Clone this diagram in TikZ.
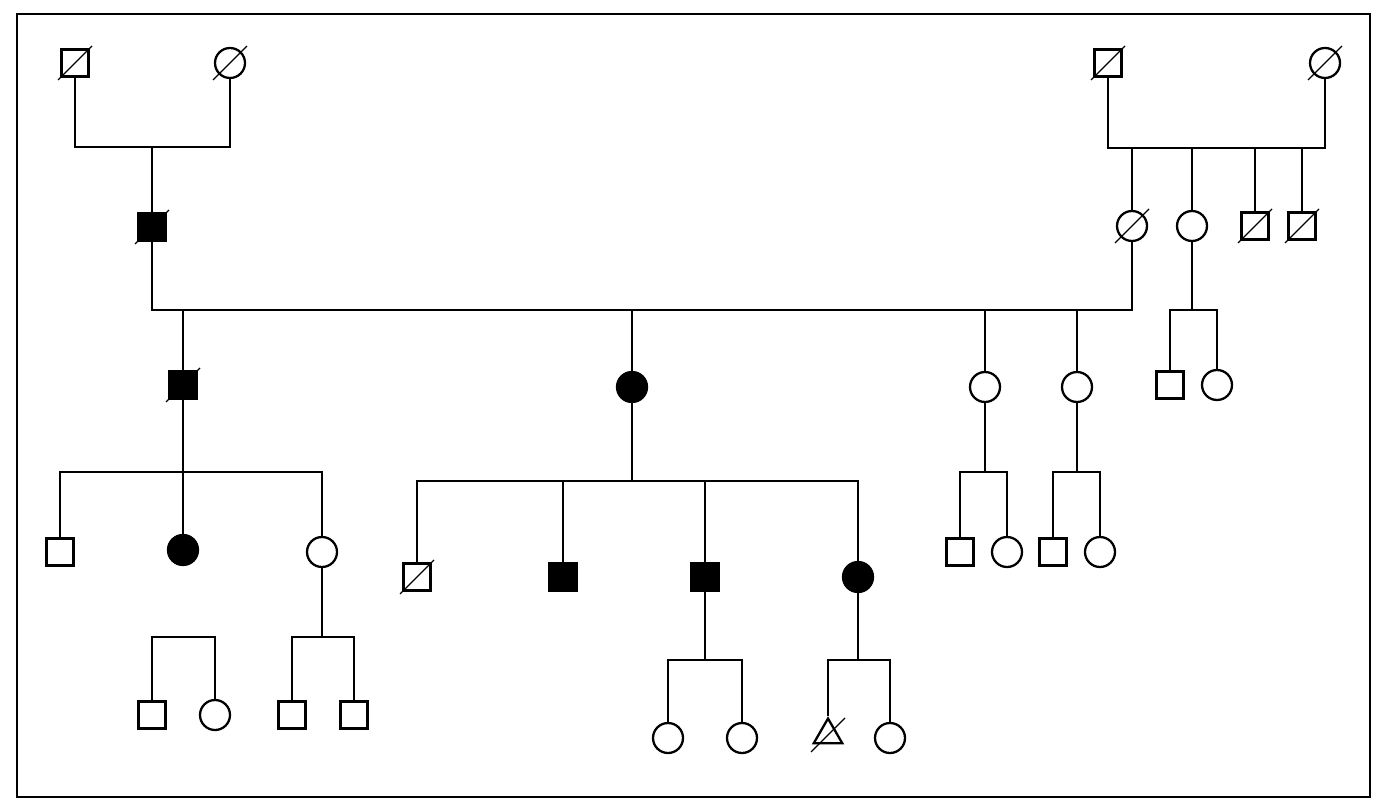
\documentclass[tikz,border=0pt]{standalone}
\usetikzlibrary{positioning,shapes.geometric,calc}
\tikzset{
  male/.style={draw,rectangle,minimum size=0.54cm,inner sep=0pt,line width=1.3pt,fill=white},
  female/.style={draw,circle,minimum size=0.6cm,inner sep=0pt,line width=1.3pt,fill=white},
  unk/.style={draw,regular polygon,regular polygon sides=3,minimum size=0.66cm,inner sep=0pt,line width=1.3pt,fill=white},
  aff/.style={fill=black},
  link/.style={line width=1.6pt},
  slash/.style={line width=0.7pt}
}
\begin{document}
\begin{tikzpicture}[x=0.02cm,y=-0.02cm]
 \useasboundingbox (0,0) rectangle (1388,800);
 \draw[line width=1pt] (17,14) rectangle (1370,797);

 %Branch points
 \coordinate (pA) at (152,147);
 \coordinate (pD) at (1132,148);
 \coordinate (pC) at (632,310);
 \coordinate (pG) at (1192,310);
 \coordinate (pH) at (183,472);
 \coordinate (pK) at (632,481);
 \coordinate (pL) at (322,637);
 \coordinate (pX) at (183,637);
 \coordinate (pN) at (705,660);
 \coordinate (pP) at (858,660);
 \coordinate (pR) at (985,472);
 \coordinate (pS) at (1077,472);

 %Generation I
 \node (A) [male] at (75,63) {};
 \node (B) [female] at (230,63) {};
 \node (D) [male] at (1108,63) {};
 \node (E) [female] at (1325,63) {};

 %Generation II
 \node (C) [male,aff] at (152,227) {};
 \node (F) [female] at (1132,226) {};
 \node (G) [female] at (1192,226) {};
 \node (F3) [male] at (1255,226) {};
 \node (F4) [male] at (1302,226) {};

 %Generation III
 \node (H) [male,aff] at (183,385) {};
 \node (K) [female,aff] at (632,387) {};
 \node (R) [female] at (985,387) {};
 \node (S) [female] at (1077,387) {};
 \node (G1) [male] at (1170,385) {};
 \node (G2) [female] at (1217,385) {};

 %Generation IV
 \node (H1) [male] at (60,552) {};
 \node (H2) [female,aff] at (183,550) {};
 \node (L) [female] at (322,552) {};
 \node (K1) [male] at (417,577) {};
 \node (K2) [male,aff] at (563,577) {};
 \node (N) [male,aff] at (705,577) {};
 \node (P) [female,aff] at (858,577) {};
 \node (R1) [male] at (960,552) {};
 \node (R2) [female] at (1007,552) {};
 \node (S1) [male] at (1053,552) {};
 \node (S2) [female] at (1100,552) {};

 %Generation V
 \node (X1) [male] at (152,715) {};
 \node (X2) [female] at (215,715) {};
 \node (L1) [male] at (292,715) {};
 \node (L2) [male] at (354,715) {};
 \node (N1) [female] at (668,738) {};
 \node (N2) [female] at (742,738) {};
 \node (P1) [unk] at (828,735) {};
 \node (P2) [female] at (890,738) {};

 %Lines of descent
 \begin{scope}[link]
  \draw (A) |- (pA) -| (B); \draw (pA) -- (C);
  \draw (D) |- (pD) -| (E); \draw (pD) -- (F);
  \draw (pD) -| (G); \draw (pD) -| (F3); \draw (pD) -| (F4);
  \draw (C) |- (pC) -| (F); \draw (pC) -- (K);
  \draw (pC) -| (H); \draw (pC) -| (R); \draw (pC) -| (S);
  \draw (G) -- (pG); \draw (G1) |- (pG) -| (G2);
  \draw (H) -- (H2); \draw (H1) |- (pH) -| (L);
  \draw (K) -- (pK); \draw (K1) |- (pK) -| (P); \draw (pK) -| (K2); \draw (pK) -| (N);
  \draw (L) -- (pL); \draw (L1) |- (pL) -| (L2);
  \draw (X1) |- (pX) -| (X2);
  \draw (N) -- (pN); \draw (N1) |- (pN) -| (N2);
  \draw (P) -- (pP); \draw (P1) |- (pP) -| (P2);
  \draw (R) -- (pR); \draw (R1) |- (pR) -| (R2);
  \draw (S) -- (pS); \draw (S1) |- (pS) -| (S2);
 \end{scope}

 %Deceased
 \foreach \n in {A,B,D,E,C,F,F3,F4,H,K1,P1}
  \draw[slash] ($(\n.center)+(-17,17)$) -- ($(\n.center)+(17,-17)$);
\end{tikzpicture}
\end{document}
